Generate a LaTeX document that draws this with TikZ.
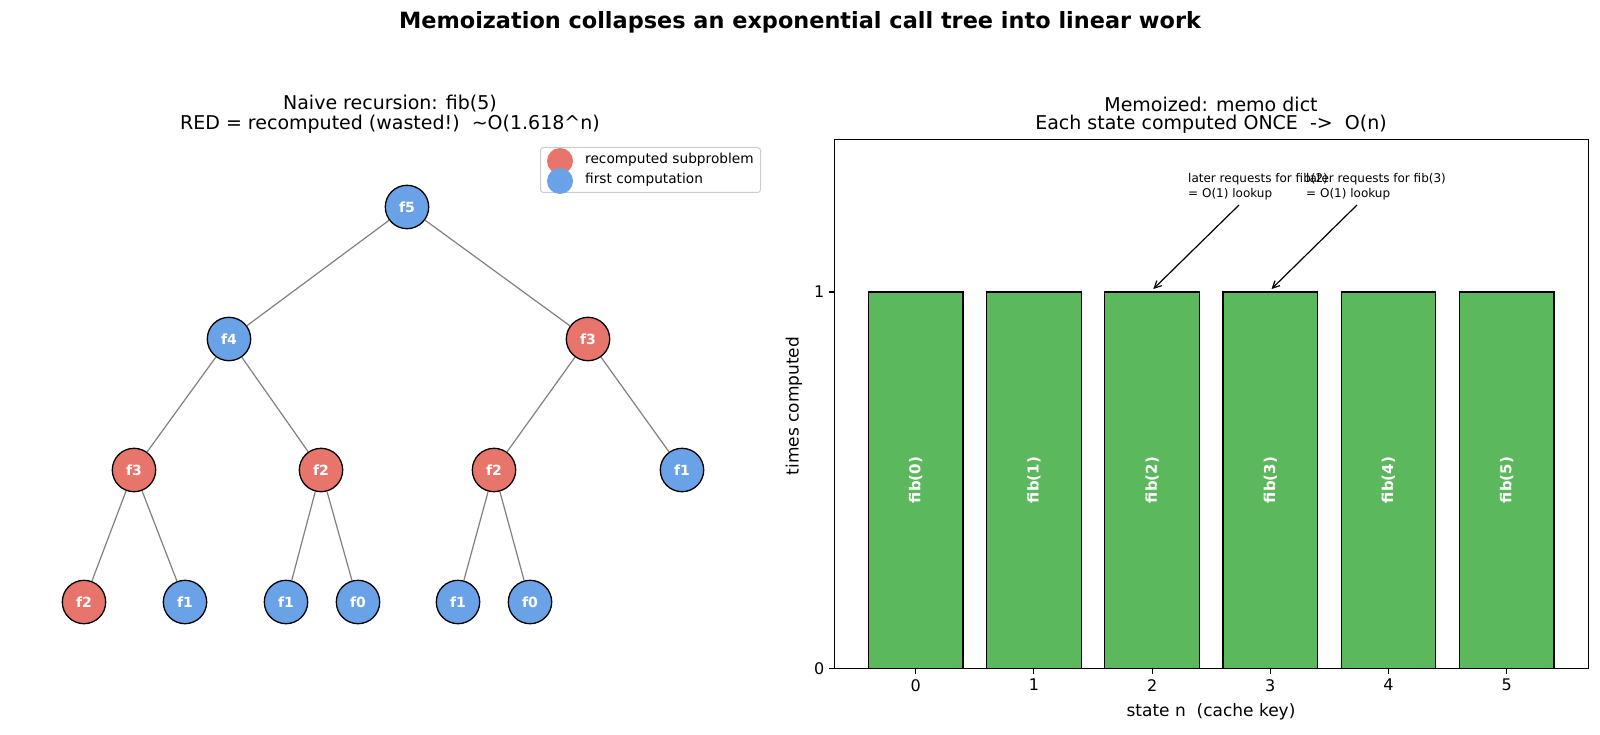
\documentclass[tikz,border=0pt]{standalone}
\usepackage{fontspec}
\setmainfont{DejaVu Sans}
\usetikzlibrary{arrows.meta}
\definecolor{redn}{HTML}{E8756B}
\definecolor{bluen}{HTML}{6AA2E8}
\definecolor{barg}{HTML}{5CB85C}
\newcommand\myfs[1]{\fontsize{#1}{#1}\selectfont}
\begin{document}
\begin{tikzpicture}[x=1pt,y=-1pt,
  tn/.style={circle, draw=black, line width=1.3pt, minimum size=43.4pt, inner sep=0pt, text=white, font=\myfs{14}\bfseries},
  rn/.style={tn, fill=redn},
  bn/.style={tn, fill=bluen},
  edge/.style={draw=gray, line width=1.2pt},
  bar/.style={draw=black, fill=barg, line width=1.3pt},
  barlab/.style={rotate=90, text=white, font=\myfs{15}\bfseries},
  tick/.style={line width=1.1pt},
  ticklab/.style={font=\myfs{16}},
  axlab/.style={font=\myfs{17}},
  subt/.style={font=\fontsize{19}{20.5}\selectfont, align=center},
  ann/.style={font=\fontsize{12}{14.5}\selectfont, align=left, anchor=west, inner sep=0pt},
  annarrow/.style={-{Straight Barb[length=7pt,width=7pt]}, line width=1.2pt},
  legtext/.style={font=\myfs{13.7}, anchor=west, inner sep=0pt}
]
\useasboundingbox (0,0) rectangle (1600,735);

% Title
\node[font=\myfs{22.4}\bfseries] (title) at (800,22.5) {Memoization collapses an exponential call tree into linear work};

% Left subtitle
\node[subt] (lt1) at (390,104) {Naive recursion: fib(5)};
\node[subt] (lt2) at (390,124.5) {RED = recomputed (wasted!)\ \ {\char"007E}O(1.618\^{}n)};

% Tree nodes
\node[bn] (n5) at (407,207) {f5};
\node[bn] (n4) at (229,339) {f4};
\node[rn] (n3r) at (588,339) {f3};
\node[rn] (n3l) at (134,470) {f3};
\node[rn] (n2a) at (321,470) {f2};
\node[rn] (n2b) at (494,470) {f2};
\node[bn] (n1r) at (682,470) {f1};
\node[rn] (b1) at (84,602) {f2};
\node[bn] (b2) at (185,602) {f1};
\node[bn] (b3) at (286,602) {f1};
\node[bn] (b4) at (358,602) {f0};
\node[bn] (b5) at (458,602) {f1};
\node[bn] (b6) at (530,602) {f0};

\foreach \a/\b in {n5/n4,n5/n3r,n4/n3l,n4/n2a,n3r/n2b,n3r/n1r,n3l/b1,n3l/b2,n2a/b3,n2a/b4,n2b/b5,n2b/b6}
  \draw[edge] (\a) -- (\b);

% Legend
\node[draw={rgb,255:red,204;green,204;blue,204}, fill=white, rounded corners=3pt, line width=1pt, minimum width=220pt, minimum height=45pt, anchor=north west, inner sep=0pt] (leg) at (540,147) {};
\node[circle, fill=redn, minimum size=26pt, inner sep=0pt] (legr) at (560,161) {};
\node[circle, fill=bluen, minimum size=26pt, inner sep=0pt] (legb) at (560,181) {};
\node[legtext] (legrt) at (585,160) {recomputed subproblem};
\node[legtext] (legbt) at (585,180) {first computation};

% Right subtitle
\node[subt] (rt1) at (1211,104) {Memoized: memo dict};
\node[subt] (rt2) at (1211,124.5) {Each state computed ONCE\ \ ->\ \ O(n)};

% Bars
\foreach \i in {0,...,5} {
  \pgfmathsetmacro{\cx}{915.7+118.2*\i}
  \draw[bar] (\cx-47.3,292) rectangle (\cx+47.3,668.3);
  \node[barlab] (bl\i) at (\cx,480) {fib(\i)};
  \draw[tick] (\cx,668.3) -- (\cx,673.9);
  \node[ticklab, anchor=north, inner sep=0pt] (xt\i) at (\cx,679) {\i};
}

% Axes frame
\draw[line width=1.1pt] (834.1,139.8) rectangle (1588.3,668.3);
\draw[tick] (834.1,668.3) -- (828.5,668.3);
\draw[tick] (834.1,292) -- (828.5,292);
\node[ticklab, anchor=east, inner sep=0pt] (y0) at (824.5,668.3) {0};
\node[ticklab, anchor=east, inner sep=0pt] (y1) at (824.5,292) {1};

\node[axlab] (xl) at (1211,712) {state n\ \ (cache key)};
\node[axlab, rotate=90] (yl) at (794,406) {times computed};

% Annotations
\node[ann] (a1) at (1188,186.5) {later requests for fib(2)\\= O(1) lookup};
\node[ann] (a2) at (1306,186.5) {later requests for fib(3)\\= O(1) lookup};
\coordinate (a1s) at (1239,205);
\coordinate (a1e) at (1153.3,289);
\coordinate (a2s) at (1357,205);
\coordinate (a2e) at (1271.5,289);
\draw[annarrow] (a1s) -- (a1e);
\draw[annarrow] (a2s) -- (a2e);
\end{tikzpicture}
\end{document}
